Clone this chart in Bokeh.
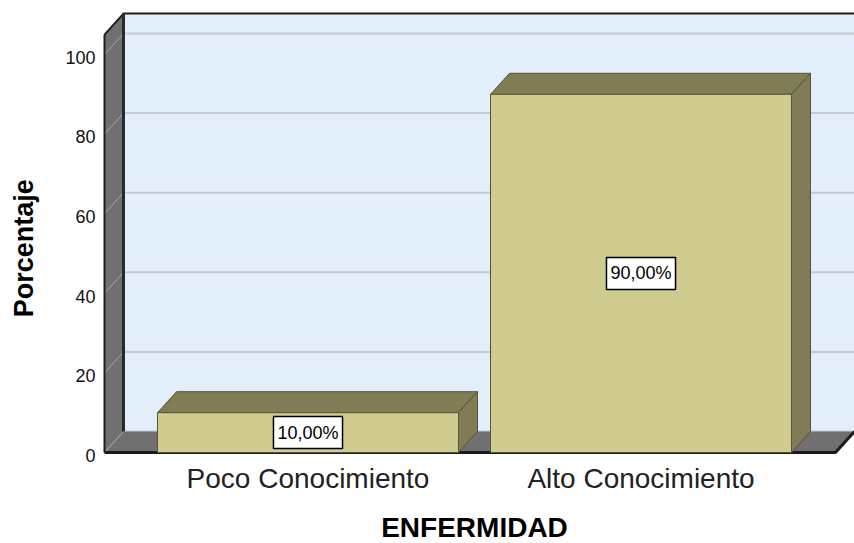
import numpy as np
from bokeh.plotting import figure
from bokeh.models import Range1d, ColumnDataSource
from bokeh.core.properties import value
from bokeh.embed import file_html
from bokeh.resources import INLINE

# ---- data ----
categories = ["Poco Conocimiento", "Alto Conocimiento"]
percentages = [10.0, 90.0]
y_ticks = [0, 20, 40, 60, 80, 100]
y_tick_labels = ["0", "20", "40", "60", "80", "100"]
x_title = "ENFERMIDAD"
y_title = "Porcentaje"

# ---- layout / style constants ----
W, H = 854, 543
PX_X = 333.0      # px per category step
PX_Y = 3.98       # px per percent
X0_CANVAS = 307.5 # canvas x of first category centre
Y0_CANVAS = 452.0 # canvas y of 0 %
FONT = value("Liberation Sans")

x_start = 1 - X0_CANVAS / PX_X
x_end = x_start + W / PX_X
y_end = Y0_CANVAS / PX_Y
y_start = -(H - Y0_CANVAS) / PX_Y

DX = 19 / PX_X
DY = 21 / PX_Y
BAR_W = 301 / PX_X
WALL_X = 1 - 203.5 / PX_X
FLOOR_R = 2 + 194.5 / PX_X
AXIS_MAX = 105
RIGHT = x_end + 0.2

WALL_GREY = "#707070"
BACK_BLUE = "#e2eefa"
GRID = "#c6cacd"
BAR_FRONT = "#d0cb8f"
BAR_DARK = "#807d56"
BAR_LINE = "#55533c"

p = figure(width=W, height=H, output_backend="svg", toolbar_location=None,
           x_axis_type=None, y_axis_type=None, min_border=0,
           x_range=Range1d(x_start, x_end), y_range=Range1d(y_start, y_end))
p.outline_line_color = None
p.background_fill_color = "white"
p.border_fill_color = "white"

# back wall
p.quad(left=[WALL_X + DX], right=[RIGHT], bottom=[DY], top=[AXIS_MAX + DY],
       fill_color=BACK_BLUE, line_color=None)
# back gridlines
p.multi_line(xs=[[WALL_X + DX, RIGHT] for t in y_ticks],
             ys=[[t + DY, t + DY] for t in y_ticks],
             line_color=GRID, line_width=2)
# left wall
p.patch(x=[WALL_X, WALL_X, WALL_X + DX, WALL_X + DX],
        y=[0, AXIS_MAX, AXIS_MAX + DY, DY],
        fill_color=WALL_GREY, line_color=None)
# floor
p.patch(x=[WALL_X, FLOOR_R, FLOOR_R + DX, WALL_X + DX],
        y=[0, 0, DY, DY], fill_color=WALL_GREY, line_color=None)
# gridlines on the side wall
p.multi_line(xs=[[WALL_X, WALL_X + DX] for t in y_ticks],
             ys=[[t, t + DY] for t in y_ticks],
             line_color="#a8a8a8", line_width=1)
# edges
p.line(x=[WALL_X, WALL_X], y=[0, AXIS_MAX], line_color="#1e1e1e", line_width=2)
p.line(x=[WALL_X, WALL_X + DX, RIGHT], y=[AXIS_MAX, AXIS_MAX + DY, AXIS_MAX + DY],
       line_color="#1e1e1e", line_width=2)
p.line(x=[WALL_X + DX, WALL_X + DX], y=[DY, AXIS_MAX + DY],
       line_color="#2a2a2a", line_width=3)
p.line(x=[WALL_X, FLOOR_R, FLOOR_R + DX], y=[0, 0, DY],
       line_color="#1a1a1a", line_width=3)

# bars
centers = [i + 1 for i in range(len(categories))]
lefts = [c - BAR_W / 2 for c in centers]
rights = [c + BAR_W / 2 for c in centers]
# top faces
p.patches(xs=[[l, r, r + DX, l + DX] for l, r in zip(lefts, rights)],
          ys=[[v, v, v + DY, v + DY] for v in percentages],
          fill_color=BAR_DARK, line_color=BAR_LINE, line_width=1)
# side faces
p.patches(xs=[[r, r, r + DX, r + DX] for r in rights],
          ys=[[0, v, v + DY, DY] for v in percentages],
          fill_color=BAR_DARK, line_color=BAR_LINE, line_width=1)
# front faces
p.quad(left=lefts, right=rights, bottom=0, top=percentages,
       fill_color=BAR_FRONT, line_color=BAR_LINE, line_width=1)

# value labels
lab_src = ColumnDataSource(dict(
    x=centers, y=[v / 2 for v in percentages],
    t=[f"{v:.2f}".replace(".", ",") + "%" for v in percentages]))
p.text(x="x", y="y", text="t", source=lab_src, text_font=FONT,
       text_font_size="18px", text_color="black", text_align="center",
       text_baseline="middle", background_fill_color="white",
       border_line_color="black", border_line_width=1.5, padding=(4, 6))

# y tick labels
p.text(x=[WALL_X - 9 / PX_X] * len(y_ticks), y=[t - 0.7 for t in y_ticks],
       text=y_tick_labels, text_font=FONT, text_font_size="18px",
       text_color="#111111", text_align="right", text_baseline="middle")

# category labels
p.text(x=centers, y=[-25.5 / PX_Y] * len(categories), text=categories,
       text_font=FONT, text_font_size="28px", text_color="#222222",
       text_align="center", text_baseline="middle")

# axis titles
p.text(x=[1.5], y=[-75 / PX_Y], text=[x_title], text_font=FONT,
       text_font_size="28px", text_font_style="bold", text_color="black",
       text_align="center", text_baseline="middle")
p.text(x=[x_start + 23 / PX_X], y=[51.3], text=[y_title], text_font=FONT,
       text_font_size="27px", text_font_style="bold", text_color="black",
       text_align="center", text_baseline="middle", angle=np.pi / 2)

open("out.html", "w").write(file_html(p, INLINE))
